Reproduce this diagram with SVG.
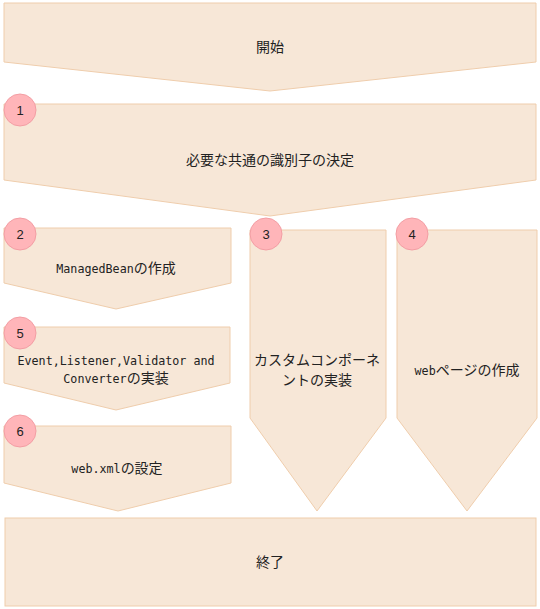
<svg xmlns="http://www.w3.org/2000/svg" width="540" height="609" viewBox="0 0 540 609">
<style>
.s{fill:#F7E7D7;stroke:#EFCDAC;stroke-width:1}
.c{fill:#FFB5B9;stroke:#F39EA4;stroke-width:1}
.t{font-family:"Noto Sans CJK JP","DejaVu Sans",sans-serif;font-size:14px;fill:#222;text-anchor:middle}
.m{font-family:"DejaVu Sans Mono","Liberation Mono",monospace;font-size:11.7px}
.n{font-family:"Liberation Sans","DejaVu Sans",sans-serif;font-size:13px;fill:#222;text-anchor:middle}
</style>
<rect width="540" height="609" fill="#fff"/>
<g id="start">
<polygon class="s" points="4,3 536,3 536,62 270,91 4,62"/>
<text class="t" x="270" y="52">開始</text>
</g>
<g id="step1">
<polygon class="s" points="4,104 536,104 536,180 270,216 4,180"/>
<text class="t" x="270" y="165">必要な共通の識別子の決定</text>
<circle class="c" cx="20" cy="110" r="16"/>
<text class="n" x="20" y="115">1</text>
</g>
<g id="step2">
<polygon class="s" points="4,228 231,228 231,283 116,309 4,283"/>
<text class="t" x="116" y="273"><tspan class="m">ManagedBean</tspan>の作成</text>
<circle class="c" cx="20" cy="234" r="16"/>
<text class="n" x="20" y="239">2</text>
</g>
<g id="step5">
<polygon class="s" points="4,327 230,327 230,383 116,410 4,383"/>
<text class="t" x="116" y="365"><tspan class="m">Event,Listener,Validator and</tspan></text>
<text class="t" x="116" y="383"><tspan class="m">Converter</tspan>の実装</text>
<circle class="c" cx="20" cy="333" r="16"/>
<text class="n" x="20" y="338">5</text>
</g>
<g id="step6">
<polygon class="s" points="4,426 231,426 231,483 118,511 4,483"/>
<text class="t" x="117" y="473"><tspan class="m">web.xml</tspan>の設定</text>
<circle class="c" cx="20" cy="431" r="16"/>
<text class="n" x="20" y="436">6</text>
</g>
<g id="step3">
<polygon class="s" points="250,230 386,230 386,418 317,511 250,418"/>
<text class="t" x="317" y="365">カスタムコンポーネ</text>
<text class="t" x="317" y="385">ントの実装</text>
<circle class="c" cx="266" cy="234" r="16"/>
<text class="n" x="266" y="239">3</text>
</g>
<g id="step4">
<polygon class="s" points="397,230 537,230 537,418 467,511 397,418"/>
<text class="t" x="467" y="375"><tspan class="m">web</tspan>ページの作成</text>
<circle class="c" cx="412" cy="234" r="16"/>
<text class="n" x="412" y="239">4</text>
</g>
<g id="end">
<rect class="s" x="5" y="518" width="531" height="88"/>
<text class="t" x="270" y="567">終了</text>
</g>
<g id="connectors"></g>
</svg>
